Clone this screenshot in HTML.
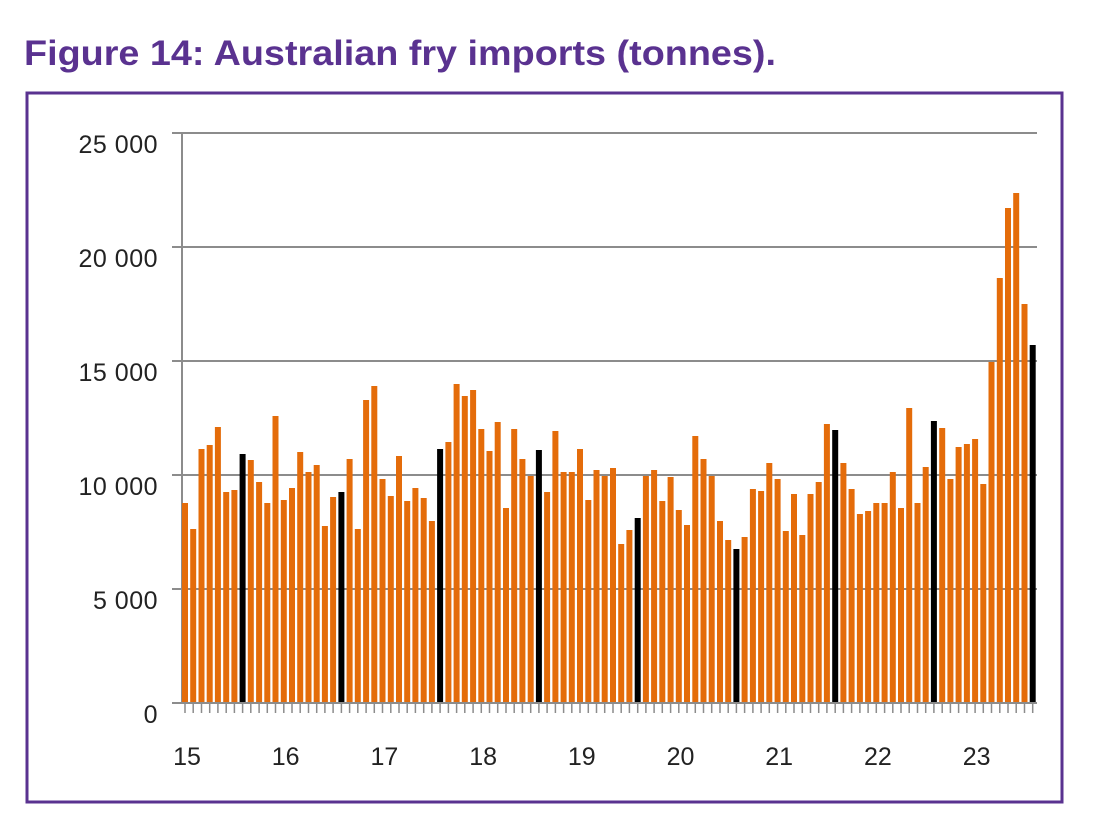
<!DOCTYPE html>
<html><head><meta charset="utf-8"><style>
html,body{margin:0;padding:0;background:#fff;}
svg{display:block;}
</style></head><body>
<svg width="1096" height="838" xmlns="http://www.w3.org/2000/svg" font-family="Liberation Sans, sans-serif">
<text x="24" y="65" font-size="35" font-weight="bold" fill="#5a3290" textLength="752" lengthAdjust="spacingAndGlyphs">Figure 14: Australian fry imports (tonnes).</text>
<rect x="27" y="93" width="1035" height="709" fill="none" stroke="#5a3290" stroke-width="3"/>
<g stroke="#8c8c8c" stroke-width="2">
<line x1="172" y1="133" x2="1037" y2="133"/>
<line x1="172" y1="247" x2="1037" y2="247"/>
<line x1="172" y1="361" x2="1037" y2="361"/>
<line x1="172" y1="475" x2="1037" y2="475"/>
<line x1="172" y1="589" x2="1037" y2="589"/>
<line x1="182" y1="133" x2="182" y2="703"/>
</g>
<path stroke="#e46c0a" stroke-width="6" fill="none" d="M185 703V503M193.2 703V529M201.5 703V449M209.7 703V445M217.9 703V427M226.2 703V492M234.4 703V490M250.8 703V460M259.1 703V482M267.3 703V503M275.5 703V416M283.8 703V500M292 703V488M300.2 703V452M308.5 703V472M316.7 703V465M324.9 703V526M333.1 703V497M349.6 703V459M357.8 703V529M366.1 703V400M374.3 703V386M382.5 703V479M390.8 703V496M399 703V456M407.2 703V501M415.4 703V488M423.7 703V498M431.9 703V521M448.4 703V442M456.6 703V384M464.8 703V396M473.1 703V390M481.3 703V429M489.5 703V451M497.7 703V422M506 703V508M514.2 703V429M522.4 703V459M530.7 703V476M547.1 703V492M555.4 703V431M563.6 703V472M571.8 703V472M580 703V449M588.3 703V500M596.5 703V470M604.7 703V476M613 703V468M621.2 703V544M629.4 703V530M645.9 703V476M654.1 703V470M662.3 703V501M670.6 703V477M678.8 703V510M687 703V525M695.3 703V436M703.5 703V459M711.7 703V476M720 703V521M728.2 703V540M744.6 703V537M752.9 703V489M761.1 703V491M769.3 703V463M777.6 703V479M785.8 703V531M794 703V494M802.3 703V535M810.5 703V494M818.7 703V482M826.9 703V424M843.4 703V463M851.6 703V489M859.9 703V514M868.1 703V511M876.3 703V503M884.6 703V503M892.8 703V472M901 703V508M909.2 703V408M917.5 703V503M925.7 703V467M942.2 703V428M950.4 703V479M958.6 703V447M966.9 703V444M975.1 703V439M983.3 703V484M991.5 703V362M999.8 703V278M1008 703V208M1016.2 703V193M1024.5 703V304"/>
<path stroke="#000" stroke-width="6" fill="none" d="M242.6 703V454M341.4 703V492M440.1 703V449M538.9 703V450M637.7 703V518M736.4 703V549M835.2 703V430M933.9 703V421M1032.7 703V345"/>
<line x1="172" y1="703" x2="1037" y2="703" stroke="#8c8c8c" stroke-width="2"/>
<path stroke="#8c8c8c" stroke-width="1.5" fill="none" d="M185 703v10M193.2 703v10M201.5 703v10M209.7 703v10M217.9 703v10M226.2 703v10M234.4 703v10M242.6 703v10M250.8 703v10M259.1 703v10M267.3 703v10M275.5 703v10M283.8 703v10M292 703v10M300.2 703v10M308.5 703v10M316.7 703v10M324.9 703v10M333.1 703v10M341.4 703v10M349.6 703v10M357.8 703v10M366.1 703v10M374.3 703v10M382.5 703v10M390.8 703v10M399 703v10M407.2 703v10M415.4 703v10M423.7 703v10M431.9 703v10M440.1 703v10M448.4 703v10M456.6 703v10M464.8 703v10M473.1 703v10M481.3 703v10M489.5 703v10M497.7 703v10M506 703v10M514.2 703v10M522.4 703v10M530.7 703v10M538.9 703v10M547.1 703v10M555.4 703v10M563.6 703v10M571.8 703v10M580 703v10M588.3 703v10M596.5 703v10M604.7 703v10M613 703v10M621.2 703v10M629.4 703v10M637.7 703v10M645.9 703v10M654.1 703v10M662.3 703v10M670.6 703v10M678.8 703v10M687 703v10M695.3 703v10M703.5 703v10M711.7 703v10M720 703v10M728.2 703v10M736.4 703v10M744.6 703v10M752.9 703v10M761.1 703v10M769.3 703v10M777.6 703v10M785.8 703v10M794 703v10M802.3 703v10M810.5 703v10M818.7 703v10M826.9 703v10M835.2 703v10M843.4 703v10M851.6 703v10M859.9 703v10M868.1 703v10M876.3 703v10M884.6 703v10M892.8 703v10M901 703v10M909.2 703v10M917.5 703v10M925.7 703v10M933.9 703v10M942.2 703v10M950.4 703v10M958.6 703v10M966.9 703v10M975.1 703v10M983.3 703v10M991.5 703v10M999.8 703v10M1008 703v10M1016.2 703v10M1024.5 703v10M1032.7 703v10"/>
<g font-size="25" fill="#222" text-anchor="end" letter-spacing="0.5">
<text x="158" y="153">25 000</text>
<text x="158" y="267">20 000</text>
<text x="158" y="381">15 000</text>
<text x="158" y="495">10 000</text>
<text x="158" y="609">5 000</text>
<text x="158" y="723">0</text>
</g>
<g font-size="25" fill="#222" text-anchor="middle">
<text x="187" y="765">15</text>
<text x="285.7" y="765">16</text>
<text x="384.4" y="765">17</text>
<text x="483.1" y="765">18</text>
<text x="581.8" y="765">19</text>
<text x="680.5" y="765">20</text>
<text x="779.2" y="765">21</text>
<text x="877.9" y="765">22</text>
<text x="976.6" y="765">23</text>
</g>
</svg>
</body></html>
